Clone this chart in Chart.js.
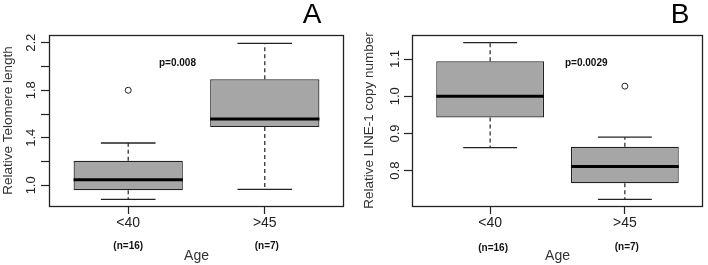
<!DOCTYPE html>
<html><head><meta charset="utf-8">
<script src="https://cdn.jsdelivr.net/npm/chart.js@4.4.1/dist/chart.umd.min.js"></script>
<style>
html,body{margin:0;padding:0;background:#fff;}
#wrap{position:relative;width:708px;height:265px;overflow:hidden;background:#fff;}
.pane{position:absolute;top:0;width:354px;height:265px;}
canvas{display:block;}
</style></head><body>
<div id="wrap">
  <div class="pane" style="left:0"><canvas id="cA"></canvas></div>
  <div class="pane" style="left:354px"><canvas id="cB"></canvas></div>
</div>
<script>
// ---- shared categories ----
const categories = ['<40', '>45'];
const groupSizes = ['(n=16)', '(n=7)'];

// ---- Panel A: Relative Telomere length ----
const telomereWhiskerLow  = [0.882, 0.966];
const telomereQ1          = [0.958, 1.490];
const telomereMedian      = [1.047, 1.558];
const telomereQ3          = [1.207, 1.892];
const telomereWhiskerHigh = [1.356, 2.195];
const telomereOutliers    = [[1.80], []];
const telomereTicks       = [1.0, 1.2, 1.4, 1.6, 1.8, 2.0, 2.2];
const telomereTickLabels  = ['1.0', '', '1.4', '', '1.8', '', '2.2'];
const telomereP           = 'p=0.008';

// ---- Panel B: Relative LINE-1 copy number ----
const line1WhiskerLow  = [0.862, 0.723];
const line1Q1          = [0.943, 0.766];
const line1Median      = [1.000, 0.811];
const line1Q3          = [1.094, 0.864];
const line1WhiskerHigh = [1.144, 0.890];
const line1Outliers    = [[], [1.027]];
const line1Ticks       = [0.8, 0.9, 1.0, 1.1];
const line1TickLabels  = ['0.8', '0.9', '1.0', '1.1'];
const line1P           = 'p=0.0029';

const FONT = '"Liberation Sans", Arial, Helvetica, sans-serif';
const INK = '#222';

function makeBox(canvasId, d) {
  const boxData = categories.map((c, i) => ({x: i + 1, y: [d.q1[i], d.q3[i]]}));
  const whiskers = [];
  categories.forEach((c, i) => {
    whiskers.push({x: i + 1, y: d.q3[i]}, {x: i + 1, y: d.hi[i]}, {x: i + 1, y: null},
                  {x: i + 1, y: d.q1[i]}, {x: i + 1, y: d.lo[i]}, {x: i + 1, y: null});
  });
  const caps = [];
  categories.forEach((c, i) => { caps.push({x: i + 1, y: d.hi[i]}, {x: i + 1, y: d.lo[i]}); });
  const meds = categories.map((c, i) => ({x: i + 1, y: d.med[i]}));
  const outs = [];
  d.outliers.forEach((arr, i) => arr.forEach(v => outs.push({x: i + 1, y: v})));

  const halfUnits = u => (ctx) => {
    const s = ctx.chart.scales.x;
    return Math.abs(s.getPixelForValue(1 + u) - s.getPixelForValue(1));
  };

  const annot = {
    id: 'annot',
    afterDatasetsDraw(chart) {
      const {ctx, chartArea: a} = chart;
      ctx.save();
      ctx.strokeStyle = INK;
      ctx.lineWidth = 1.3;
      ctx.strokeRect(Math.round(a.left) + 0.5, Math.round(a.top) + 0.5,
                     Math.round(a.right - a.left) - 1, Math.round(a.bottom - a.top));
      ctx.restore();
    },
    afterDraw(chart) {
      const {ctx} = chart;
      const xs = chart.scales.x;
      ctx.save();
      ctx.fillStyle = '#000';
      ctx.textAlign = 'center';
      ctx.textBaseline = 'alphabetic';
      ctx.font = '28px ' + FONT;
      ctx.fillText(d.letter, d.letterX, 23);
      ctx.font = 'bold 10px ' + FONT;
      ctx.textAlign = 'left';
      ctx.textBaseline = 'middle';
      ctx.fillStyle = '#111';
      ctx.fillText(d.pText, d.pX, 63);
      ctx.textAlign = 'center';
      groupSizes.forEach((t, i) => {
        ctx.fillText(t, xs.getPixelForValue(i + 1) + d.nShift[i], d.nY[i]);
      });
      ctx.restore();
    }
  };

  return new Chart(document.getElementById(canvasId), {
    type: 'bar',
    data: {
      datasets: [
        {type: 'scatter', data: outs, pointStyle: 'circle', pointRadius: 3,
         pointBackgroundColor: '#fff', pointBorderColor: INK, pointBorderWidth: 1, order: 0},
        {type: 'scatter', data: meds, pointStyle: 'line', pointRadius: halfUnits(0.4),
         pointBorderColor: '#000', pointBorderWidth: 3, order: 1},
        {type: 'scatter', data: caps, pointStyle: 'line', pointRadius: halfUnits(0.2),
         pointBorderColor: INK, pointBorderWidth: 1.3, order: 1},
        {type: 'line', data: whiskers, borderColor: INK, borderWidth: 1.2, borderDash: [4, 3],
         pointRadius: 0, spanGaps: false, fill: false, order: 2},
        {type: 'bar', data: boxData, backgroundColor: '#a6a6a6', borderColor: INK,
         borderWidth: 1.2, borderSkipped: false, categoryPercentage: 0.8, barPercentage: 1.0, order: 3}
      ]
    },
    options: {
      responsive: false,
      animation: false,
      events: [],
      layout: {padding: {top: 35, right: d.padRight, left: 0, bottom: 0}},
      plugins: {legend: {display: false}, tooltip: {enabled: false}},
      scales: {
        x: {
          type: 'linear', min: 0.42, max: 2.58, offset: false,
          afterBuildTicks: s => { s.ticks = categories.map((c, i) => ({value: i + 1})); },
          afterFit: s => { s.height = 59; },
          ticks: {callback: (v, i) => categories[i], font: {size: 14, family: FONT},
                  color: '#222', padding: 1, autoSkip: false, maxRotation: 0},
          grid: {display: true, offset: false, drawOnChartArea: false, drawTicks: true, tickLength: 8,
                 tickColor: INK, tickWidth: 1.2},
          border: {display: false},
          title: {display: true, text: 'Age', font: {size: 14, family: FONT}, color: '#333',
                  padding: {top: 0, bottom: 0}}
        },
        y: {
          type: 'linear', min: d.yMin, max: d.yMax,
          afterBuildTicks: s => { s.ticks = d.ticks.map(v => ({value: v})); },
          afterFit: s => { s.width = d.yWidth; },
          ticks: {callback: (v, i) => d.tickLabels[i], minRotation: 90, maxRotation: 90,
                  crossAlign: 'center', padding: d.tickPad, font: {size: 13, family: FONT},
                  color: '#222', autoSkip: false},
          grid: {display: true, offset: false, drawOnChartArea: false, drawTicks: true, tickLength: 8,
                 tickColor: INK, tickWidth: 1.2},
          border: {display: false},
          title: {display: true, text: d.yTitle, font: {size: 13.5, family: FONT}, color: '#333',
                  padding: {top: d.titlePad, bottom: 0}}
        }
      }
    },
    plugins: [annot]
  });
}

function sizeCanvas(id) {
  const c = document.getElementById(id);
  c.width = 354; c.height = 265;
  c.style.width = '354px'; c.style.height = '265px';
}
sizeCanvas('cA'); sizeCanvas('cB');

makeBox('cA', {
  lo: telomereWhiskerLow, q1: telomereQ1, med: telomereMedian, q3: telomereQ3,
  hi: telomereWhiskerHigh, outliers: telomereOutliers,
  ticks: telomereTicks, tickLabels: telomereTickLabels,
  yMin: 0.826, yMax: 2.265, yWidth: 49, padRight: 10, tickPad: 1, titlePad: 0,
  yTitle: 'Relative Telomere length', letter: 'A', letterX: 312,
  pText: telomereP, pX: 159, nY: [246, 246], nShift: [0, 2]
});
makeBox('cB', {
  lo: line1WhiskerLow, q1: line1Q1, med: line1Median, q3: line1Q3,
  hi: line1WhiskerHigh, outliers: line1Outliers,
  ticks: line1Ticks, tickLabels: line1TickLabels,
  yMin: 0.705, yMax: 1.1645, yWidth: 58, padRight: 1, tickPad: 0, titlePad: 7,
  yTitle: 'Relative LINE-1 copy number', letter: 'B', letterX: 326,
  pText: line1P, pX: 211, nY: [248, 247], nShift: [3, 2]
});
</script>
</body></html>
